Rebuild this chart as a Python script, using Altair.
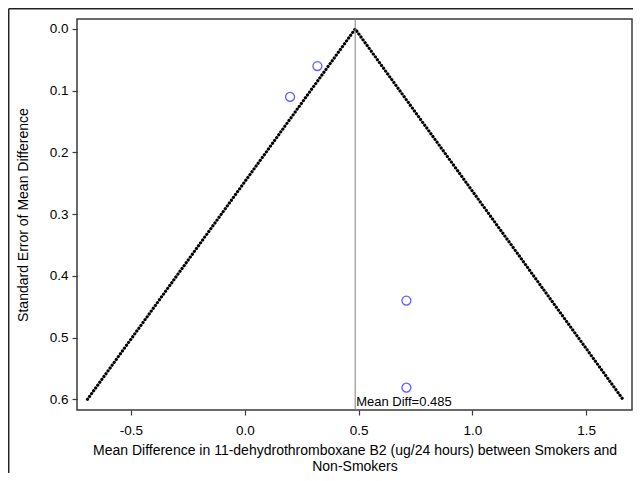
import altair as alt
import pandas as pd

# Study estimates (mean difference, standard error)
study_md = [0.319, 0.199, 0.710, 0.710]
study_se = [0.060, 0.110, 0.440, 0.581]

# Funnel boundaries (pseudo 95% CI) and pooled mean
funnel_x = [-0.691, 0.485, 1.661]
funnel_y = [0.600, 0.000, 0.600]
funnel_order = [0, 1, 2]
mean_diff = [0.485]
mean_label = ["Mean Diff=0.485"]
label_se = [0.6]

x_ticks = [-0.5, 0.0, 0.5, 1.0, 1.5]
y_ticks = [0.0, 0.1, 0.2, 0.3, 0.4, 0.5, 0.6]

FONT = "Liberation Sans"

pts = pd.DataFrame({"md": study_md, "se": study_se})
fun = pd.DataFrame({"md": funnel_x, "se": funnel_y, "o": funnel_order})
mean_df = pd.DataFrame({"md": mean_diff, "se": label_se, "t": mean_label})

xscale = alt.Scale(domain=[-0.737, 1.701], nice=False, zero=False)
yscale = alt.Scale(domain=[-0.0162, 0.6173], nice=False, zero=False, reverse=True)

lab_expr = "datum.value < 0 ? '-' + format(-datum.value, '.1f') : format(datum.value, '.1f')"

xaxis = alt.Axis(
    values=x_ticks, labelExpr=lab_expr, grid=False, domain=False,
    title=["Mean Difference in 11-dehydrothromboxane B2 (ug/24 hours) between Smokers and",
           "Non-Smokers"],
    titleLineHeight=16, titlePadding=7, labelPadding=8, tickSize=5,
)
yaxis = alt.Axis(
    values=y_ticks, labelExpr=lab_expr, grid=False, domain=False,
    title="Standard Error of Mean Difference",
    titlePadding=19, labelPadding=4, tickSize=5,
)

x_enc = alt.X("md:Q", scale=xscale, axis=xaxis)
y_enc = alt.Y("se:Q", scale=yscale, axis=yaxis)

funnel = alt.Chart(fun).mark_line(
    color="black", strokeWidth=3.2, strokeCap="round", strokeDash=[0.01, 3.5]
).encode(x=x_enc, y=y_enc, order="o:Q")

vline = alt.Chart(mean_df).mark_rule(color="#808080", strokeWidth=1).encode(
    x=alt.X("md:Q", scale=xscale)
)

label = alt.Chart(mean_df).mark_text(
    align="left", baseline="alphabetic", dx=1, dy=7, fontSize=13, font=FONT, color="black"
).encode(x=alt.X("md:Q", scale=xscale), y=alt.Y("se:Q", scale=yscale), text="t:N")

points = alt.Chart(pts).mark_point(
    shape="circle", filled=False, size=80, color="#1a1aff", strokeWidth=1.3
).encode(x=x_enc, y=y_enc)

# decorative outer frame (left and top edges of the figure)
frame_top = alt.Chart(mean_df).mark_rule(color="#222", strokeWidth=1.5).encode(
    x=alt.value(-68.3), x2=alt.value(560), y=alt.value(-10.3)
)
frame_left = alt.Chart(mean_df).mark_rule(color="#222", strokeWidth=1.5).encode(
    x=alt.value(-68.3), y=alt.value(-10.3), y2=alt.value(470)
)

chart = alt.layer(frame_top, frame_left, funnel, vline, points, label).properties(
    width=555, height=391,
    autosize=alt.AutoSizeParams(type="none"),
    padding={"left": 69, "top": 11, "right": 1, "bottom": 63},
).configure_view(
    stroke="#3a3a3a", strokeWidth=1.5
).configure_axis(
    labelFont=FONT, titleFont=FONT, labelFontSize=13.5, titleFontSize=14,
    labelColor="black", titleColor="black", tickColor="#3a3a3a", tickWidth=1.2,
    titleFontWeight="normal",
)

chart.save("out.html", embed_options={"renderer": "svg", "actions": False})
